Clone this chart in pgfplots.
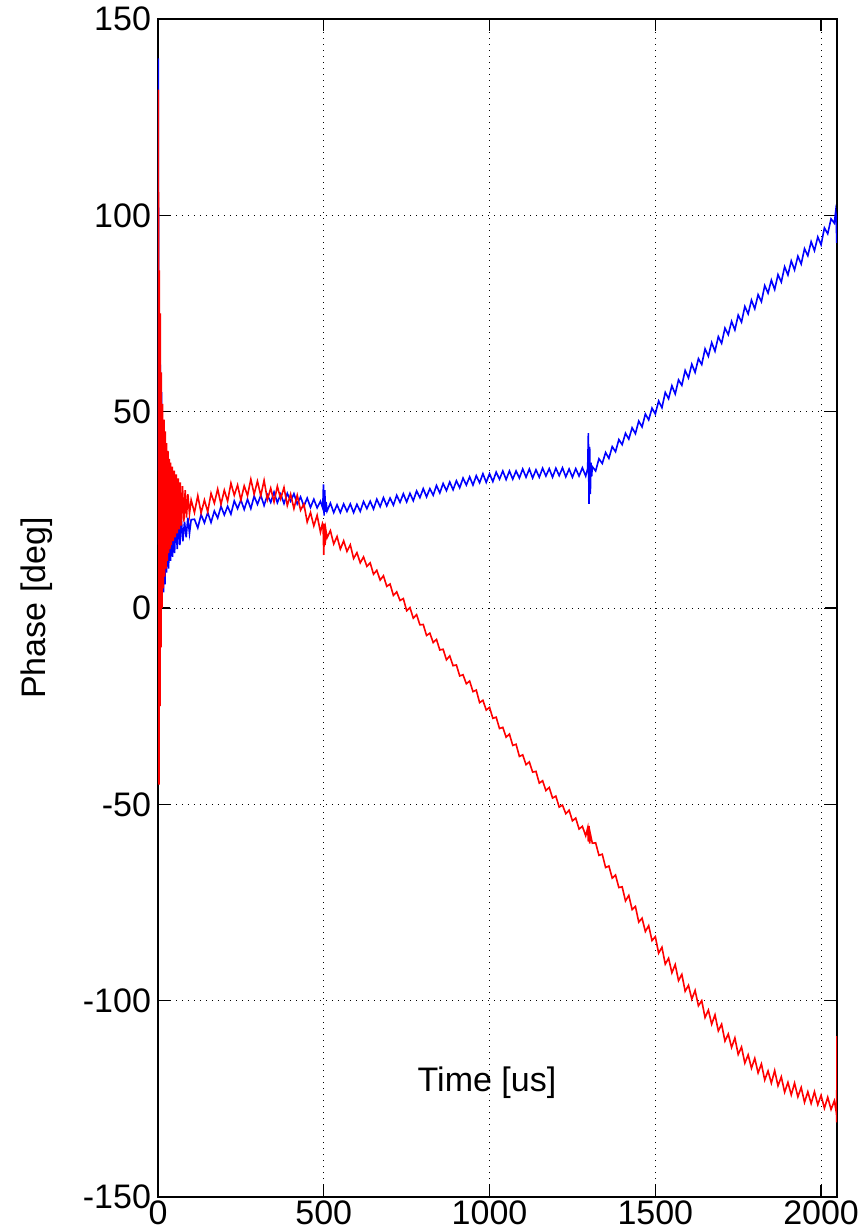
\documentclass[border=0pt]{standalone}
\usepackage{fontspec}
\setmainfont{Liberation Sans}
\usepackage{pgfplots}
\pgfplotsset{compat=1.18}
\begin{document}
\begin{tikzpicture}
\useasboundingbox (-79pt,-17pt) rectangle (351pt,598.5pt);
\begin{axis}[
  scale only axis,
  width=339.5pt, height=589pt,
  xmin=0, xmax=2048, ymin=-150, ymax=150,
  xtick={0,500,1000,1500,2000},
  ytick={-150,-100,-50,0,50,100,150},
  grid=major,
  major grid style={black, line width=0.4pt, dash pattern=on 0.6pt off 2.4pt},
  axis line style={black, line width=0.7pt},
  tick style={black, line width=0.6pt},
  major tick length=6pt,
  tick align=inside,
  /pgf/number format/assume math mode=true,
  /pgf/number format/1000 sep={},
  ticklabel style={font=\fontsize{17}{20}\selectfont},
  xticklabel style={inner ysep=1.5pt, yshift=0pt},
  label style={font=\fontsize{17}{20}\selectfont},
  xlabel={Time [us]},
  ylabel={Phase [deg]},
  xlabel style={at={(axis description cs:0.4845,0.0968)}, anchor=center},
  ylabel style={at={(axis description cs:-0.178,0.5)}, anchor=center, rotate=0},
  clip=true,
]
\addplot[blue, line width=0.8pt] coordinates {
(0,40)(1,140)(2,35)(3,67)(5,25)(7,62)(9,15)(11,55)(13,8)(15,45)(17,4)(19,38)(21,6)(23,32)(26,9)(29,28)(32,10)(35,26)(38,12)(41,24)(44,13)(47,23)(50,14)(54,23)(58,15)(62,22)(66,16)(70,23)(75,17)(80,22)(85,18)(90,23)(95,19)(100,22.5)
(110,22.6)(120,20.4)(130,23.8)(140,21.7)(150,24.3)(160,21.8)(170,24.7)(180,22.9)(190,25.9)(200,23.7)
(210,25.9)(220,23.9)(230,27.3)(240,25.3)(250,27.5)(260,25.1)(270,27.7)(280,25.3)(290,28.5)(300,26.4)
(310,28.7)(320,26.1)(330,28.8)(340,26.9)(350,29.5)(360,26.8)(370,29.0)(380,26.6)(390,29.2)(400,27.2)
(410,29.1)(420,26.5)(430,28.3)(440,25.9)(450,28.0)(460,25.6)(470,27.7)(480,25.5)(490,27.2)(497,25.4)
(499,31.5)(501,23.5)(503,30)(505,24.5)(507,27)
(510,24.7)(520,26.7)(530,24.3)(540,26.3)(550,24.3)(560,26.5)(570,24.6)(580,26.5)(590,24.3)(600,26.4)
(610,24.6)(620,27.1)(630,25.3)(640,27.2)(650,25.2)(660,27.7)(670,25.8)(680,28.1)(690,26.0)(700,28.0)
(710,26.2)(720,28.7)(730,26.9)(740,29.1)(750,27.0)(760,29.2)(770,27.3)(780,29.8)(790,28.1)(800,30.4)
(810,28.3)(820,30.4)(830,28.7)(840,31.2)(850,29.3)(860,31.7)(870,29.9)(880,32.1)(890,30.1)(900,32.4)
(910,30.6)(920,33.1)(930,31.3)(940,33.4)(950,31.3)(960,33.7)(970,31.9)(980,34.2)(990,32.0)(1000,34.2)
(1010,32.2)(1020,34.6)(1030,32.8)(1040,34.9)(1050,32.7)(1060,34.9)(1070,32.8)(1080,34.9)(1090,33.1)(1100,35.4)
(1110,33.3)(1120,35.4)(1130,33.1)(1140,35.2)(1150,33.3)(1160,35.6)(1170,33.6)(1180,35.5)(1190,33.3)(1200,35.6)
(1210,33.7)(1220,35.7)(1230,33.4)(1240,35.4)(1250,33.3)(1260,35.5)(1270,33.6)(1280,35.7)(1290,33.6)(1296,35.5)
(1298,44.5)(1300,26.5)(1302,41)(1304,29)(1306,37)(1308,33.5)
(1310,36.0)(1320,34.9)(1330,38.0)(1340,36.8)(1350,39.6)(1360,38.1)(1370,41.1)(1380,39.8)(1390,42.9)(1400,41.6)
(1410,44.5)(1420,43.0)(1430,45.9)(1440,44.4)(1450,47.6)(1460,46.1)(1470,49.4)(1480,47.9)(1490,50.9)(1500,49.4)
(1510,52.7)(1520,51.0)(1530,54.9)(1540,53.3)(1550,56.6)(1560,54.5)(1570,58.1)(1580,56.7)(1590,60.5)(1600,58.6)
(1610,62.1)(1620,60.0)(1630,63.5)(1640,62.0)(1650,66.0)(1660,64.1)(1670,67.6)(1680,65.4)(1690,69.1)(1700,67.4)
(1710,71.3)(1720,69.6)(1730,73.0)(1740,70.8)(1750,74.6)(1760,72.8)(1770,76.8)(1780,74.9)(1790,78.4)(1800,76.2)
(1810,79.8)(1820,78.0)(1830,82.1)(1840,80.2)(1850,83.5)(1860,81.1)(1870,84.9)(1880,83.0)(1890,86.9)(1900,84.8)
(1910,88.4)(1920,86.1)(1930,89.6)(1940,87.6)(1950,91.5)(1960,89.7)(1970,93.3)(1980,91.0)(1990,94.5)(2000,92.5)
(2010,96.8)(2020,95.3)(2030,99.1)(2040,98.0)(2044,101.0)(2046,99.5)(2047,93)
};
\addplot[red, line width=0.8pt] coordinates {
(0,20)(1,132)(2,60)(3,-45)(4,86)(5,10)(6,-25)(7,75)(8,20)(9,-10)(10,60)(12,0)(14,52)(16,5)(18,48)(20,8)(22,45)(24,10)(26,42)(28,12)(30,40)(32,14)(34,38)(36,15)(38,37)(40,16)(43,36)(46,17)(49,35)(52,18)(55,34)(58,19)(61,33)(64,20)(67,32)(70,21)(74,31)(78,22)(82,30)(86,23)(90,29)(95,24)
(100,27.5)(110,24.3)(120,28.6)(130,24.2)(140,27.5)(150,24.5)(160,29.2)(170,26.7)(180,30.3)(190,26.4)
(200,30.0)(210,27.2)(220,31.8)(230,28.7)(240,31.3)(250,27.5)(260,31.1)(270,28.6)(280,32.8)(290,29.0)
(300,32.3)(310,28.6)(320,32.5)(330,27.6)(340,30.5)(350,27.0)(360,31.0)(370,27.8)(380,30.7)(390,26.1)
(400,29.0)(410,25.3)(420,28.7)(430,24.9)(440,26.5)(450,21.9)(460,24.3)(470,20.9)(480,23.6)(490,19.3)
(496,21.5)(498,21)(500,13.5)(502,21.5)(504,16)(506,20)
(510,17.9)(520,19.7)(530,16.3)(540,18.2)(550,15.0)(560,17.1)(570,14.4)(580,16.1)(590,12.6)(600,14.1)
(610,11.5)(620,13.0)(630,10.6)(640,11.5)(650,8.6)(660,9.6)(670,7.1)(680,8.2)(690,5.5)(700,6.1)
(710,3.2)(720,4.1)(730,1.9)(740,2.4)(750,-0.7)(760,0.1)(770,-2.6)(780,-1.7)(790,-4.3)(800,-4.2)
(810,-7.0)(820,-6.4)(830,-8.8)(840,-8.0)(850,-10.7)(860,-10.5)(870,-13.2)(880,-12.2)(890,-14.7)(900,-14.5)
(910,-17.3)(920,-17.0)(930,-19.3)(940,-18.6)(950,-21.3)(960,-20.9)(970,-24.1)(980,-23.5)(990,-26.0)(1000,-25.3)
(1010,-28.1)(1020,-27.8)(1030,-30.7)(1040,-30.4)(1050,-32.9)(1060,-32.1)(1070,-35.0)(1080,-34.7)(1090,-37.8)(1100,-37.4)
(1110,-39.9)(1120,-39.2)(1130,-41.8)(1140,-41.6)(1150,-44.6)(1160,-44.0)(1170,-46.5)(1180,-45.7)(1190,-48.4)(1200,-47.9)
(1210,-50.7)(1220,-50.2)(1230,-52.4)(1240,-51.5)(1250,-54.2)(1260,-53.5)(1270,-56.3)(1280,-55.6)(1290,-58.0)(1296,-56.0)
(1298,-59.5)(1300,-55.5)(1302,-60.0)(1304,-57.5)
(1310,-59.9)(1320,-59.8)(1330,-63.0)(1340,-62.7)(1350,-66.1)(1360,-65.7)(1370,-68.8)(1380,-68.0)(1390,-71.2)(1400,-71.0)
(1410,-74.6)(1420,-73.2)(1430,-76.8)(1440,-76.0)(1450,-80.0)(1460,-79.0)(1470,-82.4)(1480,-80.9)(1490,-84.7)(1500,-83.7)
(1510,-87.9)(1520,-86.4)(1530,-90.7)(1540,-89.2)(1550,-92.9)(1560,-90.8)(1570,-94.9)(1580,-93.3)(1590,-97.6)(1600,-96.1)
(1610,-99.6)(1620,-97.4)(1630,-101.3)(1640,-100.0)(1650,-104.3)(1660,-102.4)(1670,-106.0)(1680,-103.6)(1690,-107.7)(1700,-106.0)
(1710,-110.3)(1720,-108.5)(1730,-111.9)(1740,-109.5)(1750,-113.7)(1760,-111.8)(1770,-115.9)(1780,-113.8)(1790,-117.2)(1800,-114.7)
(1810,-118.4)(1820,-116.1)(1830,-120.2)(1840,-117.9)(1850,-121.0)(1860,-117.8)(1870,-121.7)(1880,-119.4)(1890,-123.3)(1900,-120.8)
(1910,-124.0)(1920,-121.0)(1930,-124.5)(1940,-122.1)(1950,-125.9)(1960,-123.2)(1970,-126.2)(1980,-123.2)(1990,-126.5)(2000,-124.1)
(2010,-127.4)(2020,-124.6)(2030,-127.7)(2040,-125.5)(2044,-127.5)(2046,-126)(2047,-131)(2048,-109)
};
\end{axis}
\end{tikzpicture}
\end{document}
